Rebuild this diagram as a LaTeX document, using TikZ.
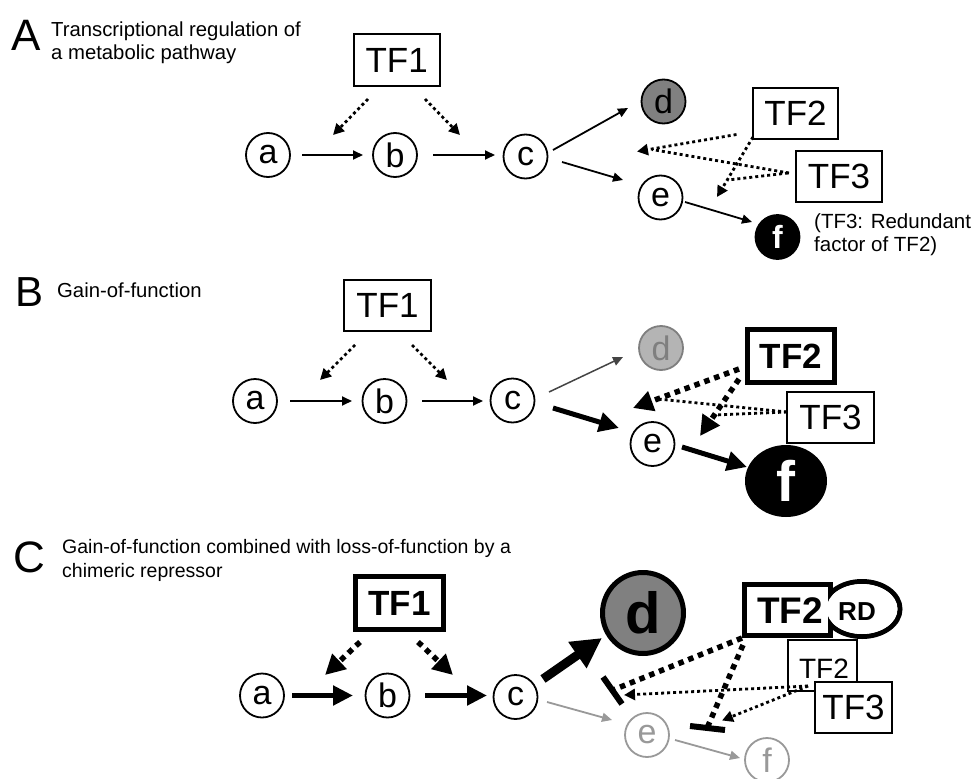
\documentclass[tikz,border=0pt]{standalone}
\usepackage{fontspec}
\setmainfont{Liberation Sans}
\usetikzlibrary{arrows.meta,calc,shapes.geometric}
\newcommand{\fsz}[1]{\fontsize{#1}{#1}\selectfont}
\definecolor{dgray}{HTML}{808080}
\definecolor{lgray}{HTML}{999999}
\definecolor{bfill}{HTML}{B4B4B4}
\definecolor{bline}{HTML}{7F7F7F}
\definecolor{darkline}{HTML}{444444}
\begin{document}
\begin{tikzpicture}[x=1pt,y=-1pt,
  circ/.style={circle,draw,line width=1.8pt,minimum size=44pt,inner sep=0pt,font=\fsz{34}},
  tfbox/.style={draw,line width=1.8pt,inner sep=0pt,font=\fsz{35}},
  tfthick/.style={draw,line width=5pt,inner sep=0pt,font=\bfseries\fsz{35}},
  thinarr/.style={line width=1.8pt,-{Triangle[length=10pt,width=9pt]}},
  dotline/.style={line width=2.8pt,dash pattern=on 3pt off 3pt},
  dotarr/.style={dotline,-{Triangle[length=11pt,width=11pt]}},
  thickarr/.style={line width=5pt,-{Triangle[length=20pt,width=19pt]}},
  thickdot/.style={line width=5.5pt,dash pattern=on 5.5pt off 5pt},
  thickdotarr/.style={thickdot,-{Triangle[length=20pt,width=20pt]}},
  title/.style={anchor=base west,inner sep=0pt,font=\fsz{20.3}},
  panel/.style={anchor=base west,inner sep=0pt},
]
\useasboundingbox (0,0) rectangle (980,779);
\fill[white] (0,0) rectangle (980,779);

% ================= Panel A =================
\node[panel,font=\fsz{44}] (labA) at (11,50) {A};
\node[title] (tA1) at (51,36.7) {Transcriptional regulation of};
\node[title] (tA2) at (51,59.5) {a metabolic pathway};

\node[circ] (aA) at (268,155) {a};
\node[circ] (bA) at (395,155) {b};
\node[circ] (cA) at (525.5,156.5) {c};
\node[circ,fill=dgray] (dA) at (663.5,101.5) {d};
\node[circ] (eA) at (660.5,197.5) {e};
\node[circ,fill=black,text=white,font=\bfseries\fsz{32}] (fA) at (777.5,237) {f};
\node[tfbox,minimum width=86pt,minimum height=52pt] (TF1A) at (396.7,60.3) {TF1};
\node[tfbox,minimum width=85pt,minimum height=51pt] (TF2A) at (795.5,113.5) {TF2};
\node[tfbox,minimum width=86pt,minimum height=51pt] (TF3A) at (839,176.5) {TF3};
\node[title,font=\fsz{20.5}] (nA1) at (814,228.5) {(TF3: Redundant};
\node[title,font=\fsz{20.5}] (nA2) at (814,251.5) {factor of TF2)};

\draw[thinarr] ($(aA)+(34,0)$) -- ($(bA)+(-32,0)$);
\draw[thinarr] ($(bA)+(38,0)$) -- ($(cA)+(-30.5,-1.5)$);
\draw[thinarr] ($(cA)+(27.5,-6.5)$) -- ($(dA)+(-35.5,6.5)$);
\draw[thinarr] ($(cA)+(36.5,5.5)$) -- ($(eA)+(-37.5,-17.5)$);
\draw[thinarr] ($(eA)+(24.5,4.5)$) -- ($(fA)+(-25.5,-15)$);
\draw[dotarr] ($(TF1A)+(-28.7,38.7)$) -- ($(aA)+(65,-20)$);
\draw[dotarr] ($(TF1A)+(28.3,38.7)$) -- ($(bA)+(65,-20)$);
\coordinate (xA1) at (637,151.5);
\coordinate (xA2) at (717,197);
\draw[dotarr] ($(TF2A)+(-59,21)$) -- (xA1);
\draw[dotline] ($(TF3A)+(-50,-3.5)$) -- ($(xA1)+(15,-2)$);
\draw[dotarr] ($(TF2A)+(-42.5,23.5)$) -- (xA2);
\draw[dotline] ($(TF3A)+(-51,-3.5)$) -- ($(xA2)+(11,-17)$);

% ================= Panel B =================
\node[panel,font=\fsz{42}] (labB) at (15,306.7) {B};
\node[title] (tB1) at (57,297) {Gain-of-function};

\node[circ] (aB) at (255,401) {a};
\node[circ] (bB) at (384.5,401) {b};
\node[circ] (cB) at (512.5,400.5) {c};
\node[circ,fill=bfill,draw=bline,text=bline] (dB) at (661,348) {d};
\node[circ] (eB) at (652.5,444) {e};
\node[ellipse,fill=black,text=white,minimum width=82pt,minimum height=72pt,inner sep=0pt,font=\bfseries\fsz{57}] (fB) at (786,481) {f};
\node[tfbox,minimum width=87pt,minimum height=51pt] (TF1B) at (387.5,305.5) {TF1};
\node[tfthick,minimum width=87pt,minimum height=53pt] (TF2B) at (791,356) {TF2};
\node[tfbox,minimum width=87pt,minimum height=51pt] (TF3B) at (830.5,417.5) {TF3};

\draw[thinarr] ($(aB)+(35,0)$) -- ($(bB)+(-32.5,0)$);
\draw[thinarr] ($(bB)+(37.5,0)$) -- ($(cB)+(-29.5,0.5)$);
\draw[dotarr] ($(TF1B)+(-32.5,39.5)$) -- ($(aB)+(65,-21)$);
\draw[dotarr] ($(TF1B)+(24.5,39.5)$) -- ($(bB)+(62.5,-21)$);
\draw[thinarr,draw=darkline,line width=1.5pt] ($(cB)+(36.5,-8.5)$) -- ($(dB)+(-38,9)$);
\draw[thickarr] ($(cB)+(40.5,7.5)$) -- ($(eB)+(-33.5,-16)$);
\draw[thickarr] ($(eB)+(29.5,3)$) -- ($(fB)+(-39,-14)$);
\coordinate (xB1) at (633,408);
\coordinate (xB2) at (700,436);
\draw[thickdotarr] ($(TF2B)+(-52,13)$) -- (xB1);
\draw[thickdotarr] ($(TF2B)+(-52,23)$) -- (xB2);
\draw[dotline] ($(TF3B)+(-43.5,-5.5)$) -- ($(xB1)+(25,-9)$);
\draw[dotline] ($(TF3B)+(-43.5,-5.5)$) -- ($(xB2)+(15,-21)$);

% ================= Panel C =================
\node[panel,font=\fsz{44}] (labC) at (13,572) {C};
\node[anchor=north west,inner sep=0pt,align=left,font=\fontsize{19.5}{24.5}\selectfont] (tC) at (62,538.8)
  {Gain-of-function combined with loss-of-function by a\\chimeric repressor};

\node[circ] (aC) at (262,695.5) {a};
\node[circ] (bC) at (387.5,695.5) {b};
\node[circ] (cC) at (515.5,697) {c};
\node[circle,draw,line width=5pt,fill=dgray,minimum size=81pt,inner sep=0pt,font=\bfseries\fsz{58}] (dC) at (643,613) {d};
\node[circ,draw=lgray,text=lgray] (eC) at (647,735) {e};
\node[circ,draw=lgray,text=lgray] (fC) at (767,760) {f};
\node[tfthick,minimum width=88pt,minimum height=53pt] (TF1C) at (399.5,603) {TF1};

% TF2-RD chimeric repressor outline
\draw[line width=5pt] (744.5,584.5) rectangle (830,635.5);
\draw[line width=5pt] (862,609) ellipse [x radius=38, y radius=27.5];
\fill[white] (747,587) rectangle (827.5,633);
\fill[white] (862,609) ellipse [x radius=35.5, y radius=25];
\node[inner sep=0pt,font=\bfseries\fsz{37}] (tf2rd) at (790,610.5) {TF2};
\node[inner sep=0pt,font=\bfseries\fsz{26}] (rd) at (857,611.5) {RD};

\node[tfbox,minimum width=69pt,minimum height=51pt] (TF2C) at (822.5,665.5) {};
\node[inner sep=0pt,font=\fsz{28}] (TF2Ct) at (824,669) {TF2};

\draw[thickarr] ($(aC)+(30,0)$) -- ($(bC)+(-34.5,0)$);
\draw[thickarr] ($(bC)+(37.5,0)$) -- ($(cC)+(-28.5,-1.5)$);
\draw[thickdotarr] ($(TF1C)+(-39.5,39)$) -- ($(aC)+(63,-20.5)$);
\draw[thickdotarr] ($(TF1C)+(18.5,39)$) -- ($(bC)+(65.5,-20.5)$);
\draw[line width=9pt,-{Triangle[length=30pt,width=30pt]}] ($(cC)+(27.5,-18)$) -- ($(dC)+(-41,25)$);
\draw[thinarr,draw=lgray,fill=lgray] ($(cC)+(31.5,5)$) -- ($(eC)+(-35,-15)$);
\draw[thinarr,draw=lgray,fill=lgray] ($(eC)+(28,5)$) -- ($(fC)+(-27,-2)$);

\coordinate (k1) at (613,690);
\coordinate (k2) at (707.5,727);
\draw[thickdot] ($(tf2rd)+(-48,27.5)$) -- (k1);
\draw[thickdot] ($(tf2rd)+(-47,34.5)$) -- (k2);
\draw[line width=6pt] ($(k1)+(-10,-13)$) -- ($(k1)+(9,14)$);
\draw[line width=6pt] ($(k2)+(-17.5,-1)$) -- ($(k2)+(17.5,3)$);

\coordinate (yC1) at (624,695);
\coordinate (yC2) at (722,720.5);
\coordinate (sC) at (808,686);
\draw[dotarr] (sC) -- (yC1);
\draw[dotarr] (sC) -- (yC2);
\node[tfbox,fill=white,minimum width=77pt,minimum height=51pt] (TF3C) at (853.5,707.5) {TF3};
\end{tikzpicture}
\end{document}
